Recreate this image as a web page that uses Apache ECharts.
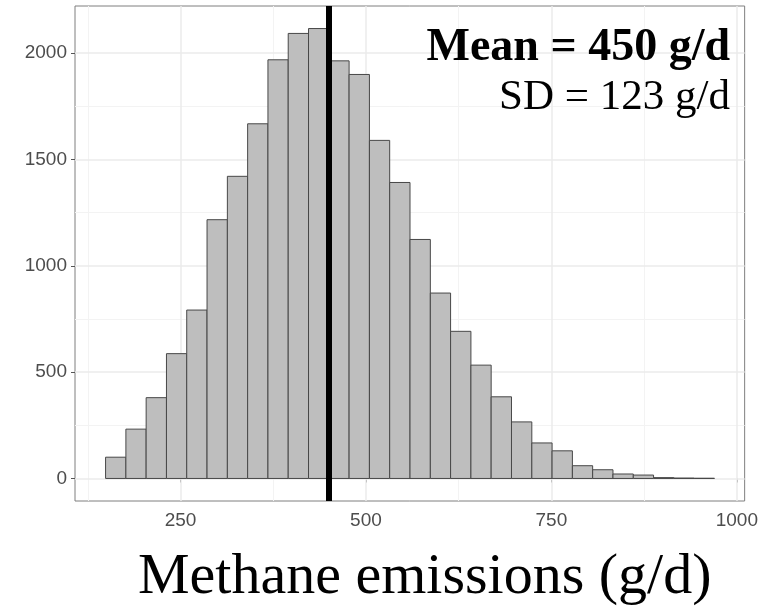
<!DOCTYPE html>
<html>
<head>
<meta charset="utf-8">
<script src="https://cdn.jsdelivr.net/npm/echarts@6/dist/echarts.min.js"></script>
<style>
  html, body { margin: 0; padding: 0; background: #fff; }
  #chart { width: 761px; height: 613px; }
</style>
</head>
<body>
<div id="chart"></div>
<script>
  // histogram bin edges (g/d), 30 bins
  const binEdges = [149.0, 176.4, 203.7, 231.1, 258.4, 285.8, 313.2, 340.5, 367.9, 395.2,
    422.6, 450.0, 477.3, 504.7, 532.0, 559.4, 586.8, 614.1, 641.5, 668.8,
    696.2, 723.6, 750.9, 778.3, 805.6, 833.0, 860.4, 887.7, 915.1, 942.4, 969.8];
  // counts per bin
  const counts = [100, 232, 380, 587, 792, 1217, 1421, 1668, 1969, 2093,
    2116, 1964, 1900, 1590, 1392, 1124, 872, 692, 533, 384,
    266, 167, 130, 60, 41, 21, 16, 4, 2, 1];
  const meanValue = 450;
  const xTicks = [250, 500, 750, 1000];
  const xMinor = [125, 375, 625, 875];
  const yTicks = [0, 500, 1000, 1500, 2000];
  const yMinor = [250, 750, 1250, 1750];

  const barData = counts.map((c, i) => [binEdges[i], binEdges[i + 1], c]);

  const chart = echarts.init(document.getElementById('chart'));

  const minorStyle = { color: '#F3F3F3', width: 1, type: 'solid' };
  const majorStyle = { color: '#EBEBEB', width: 1.5, type: 'solid' };
  const gridLines = [
    ...xMinor.map(v => ({ xAxis: v, lineStyle: minorStyle })),
    ...yMinor.map(v => ({ yAxis: v, lineStyle: minorStyle })),
    ...xTicks.map(v => ({ xAxis: v, lineStyle: majorStyle })),
    ...yTicks.map(v => ({ yAxis: v, lineStyle: majorStyle }))
  ];

  const labelStyle = {
    color: '#4D4D4D',
    fontFamily: 'Liberation Sans, Arial, sans-serif',
    fontSize: 19,
    formatter: v => String(v)
  };

  const option = {
    animation: false,
    grid: {
      left: 75, right: 16, top: 6, bottom: 112,
      show: true, borderColor: '#7F7F7F', borderWidth: 1, backgroundColor: 'transparent'
    },
    xAxis: {
      type: 'value', min: 107.8, max: 1010.5,
      axisLine: { show: false },
      splitLine: { show: false },
      axisTick: { show: true, customValues: xTicks, length: 4, lineStyle: { color: '#555' } },
      axisLabel: { ...labelStyle, customValues: xTicks, margin: 10 }
    },
    yAxis: {
      type: 'value', min: -106, max: 2222,
      axisLine: { show: false },
      splitLine: { show: false },
      axisTick: { show: true, customValues: yTicks, length: 4, lineStyle: { color: '#555' } },
      axisLabel: { ...labelStyle, customValues: yTicks, margin: 8 }
    },
    series: [
      {
        type: 'line', data: [], silent: true, z: 1,
        markLine: { silent: true, symbol: 'none', z: 1, label: { show: false }, data: gridLines }
      },
      {
        type: 'custom', z: 3,
        encode: { x: [0, 1], y: 2 },
        data: barData,
        renderItem: (params, api) => {
          const p0 = api.coord([api.value(0), api.value(2)]);
          const p1 = api.coord([api.value(1), 0]);
          return {
            type: 'rect',
            shape: { x: p0[0], y: p0[1], width: p1[0] - p0[0], height: p1[1] - p0[1] },
            style: { fill: '#BEBEBE', stroke: '#484848', lineWidth: 1 }
          };
        }
      },
      {
        type: 'line', data: [], silent: true, z: 10,
        markLine: {
          silent: true, symbol: 'none', z: 10, label: { show: false },
          lineStyle: { color: '#000', width: 6, type: 'solid' },
          data: [{ xAxis: meanValue }]
        }
      }
    ],
    graphic: [
      {
        type: 'text', right: 31, top: 25, z: 20,
        style: {
          text: 'Mean = ' + meanValue + ' g/d', fill: '#000',
          font: 'bold 46px "Liberation Serif", "DejaVu Serif", serif'
        }
      },
      {
        type: 'text', right: 31, top: 76, z: 20,
        style: {
          text: 'SD = 123 g/d', fill: '#000',
          font: '43px "Liberation Serif", "DejaVu Serif", serif'
        }
      },
      {
        type: 'text', left: 138, top: 549, z: 20,
        style: {
          text: 'Methane emissions (g/d)', fill: '#000',
          font: '58px "Liberation Serif", "DejaVu Serif", serif'
        }
      }
    ]
  };

  chart.setOption(option);
</script>
</body>
</html>
